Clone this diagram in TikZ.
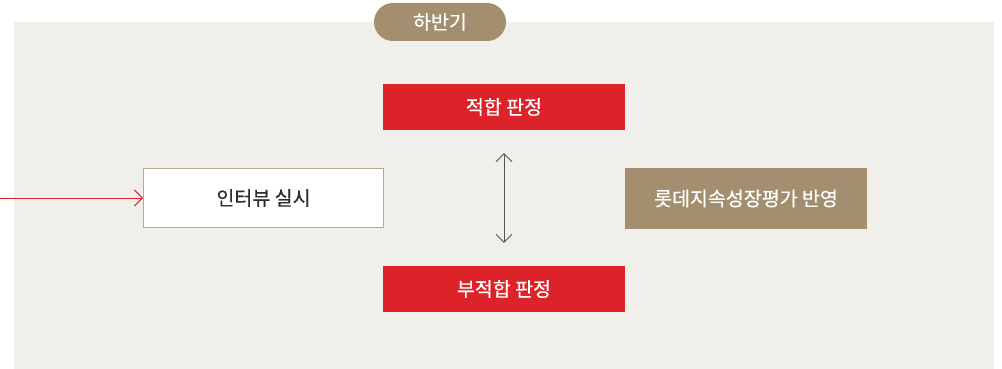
\documentclass[tikz,border=0pt]{standalone}
\usepackage{fontspec}
\setmainfont{Noto Sans CJK KR}
\newfontfamily\mediumfont{Noto Sans CJK KR}[FakeBold=0.5]
\usetikzlibrary{arrows.meta}

\definecolor{panelbg}{HTML}{F0EFEA}
\definecolor{fitred}{HTML}{DC2329}
\definecolor{goldtan}{HTML}{A38F6F}
\definecolor{boxline}{HTML}{B8AA8E}
\definecolor{textgray}{HTML}{2E2E2E}
\definecolor{arrowgray}{HTML}{555555}

\tikzset{
  labelfont/.style={font=\mediumfont\fontsize{19.5}{22}\selectfont},
  redbox/.style={labelfont, fill=fitred, text=white, minimum width=242pt, minimum height=46pt, inner sep=0pt},
  tanbox/.style={labelfont, fill=goldtan, text=white, minimum width=242pt, minimum height=61pt, inner sep=0pt},
  whitebox/.style={labelfont, fill=white, draw=boxline, line width=1pt, text=textgray, minimum width=240pt, minimum height=59pt, inner sep=0pt},
  pill/.style={labelfont, fill=goldtan, text=white, rounded corners=19pt, minimum width=132pt, minimum height=38pt, inner sep=0pt},
  chevron/.style={-{Straight Barb[length=8pt, width=16pt]}},
}

\begin{document}
\begin{tikzpicture}[x=1pt, y=-1pt]
			% Frame
			\def\panelleft{14}
			\def\panelright{994}
			\def\paneltop{22}
			\def\panelbot{369}
			\def\gap{23}

			\useasboundingbox (0,0) rectangle (1002,369);
			\fill[panelbg] (\panelleft, \paneltop) rectangle (\panelright, \panelbot);
			\node[pill] (half) at (440, 22) {하반기};

			% Boxes
			\node[whitebox] (interview) at (263.5, 198) {인터뷰 실시};
			\node[redbox] (fit) at (504, 107) {적합 판정};
			\node[redbox] (unfit) at (504, 289) {부적합 판정};
			\node[tanbox] (reflect) at (746, 198.5) {롯데지속성장평가 반영};

			% Arrows
			\coordinate (entry) at (0, 198);
			\draw[chevron, fitred, line width=0.9pt] (entry) -- (interview.west);
			\draw[{Straight Barb[length=8pt, width=16pt]}-{Straight Barb[length=8pt, width=16pt]}, arrowgray, line width=0.9pt, shorten <=\gap pt, shorten >=\gap pt] (fit.south) -- (unfit.north);
		\end{tikzpicture}
\end{document}
